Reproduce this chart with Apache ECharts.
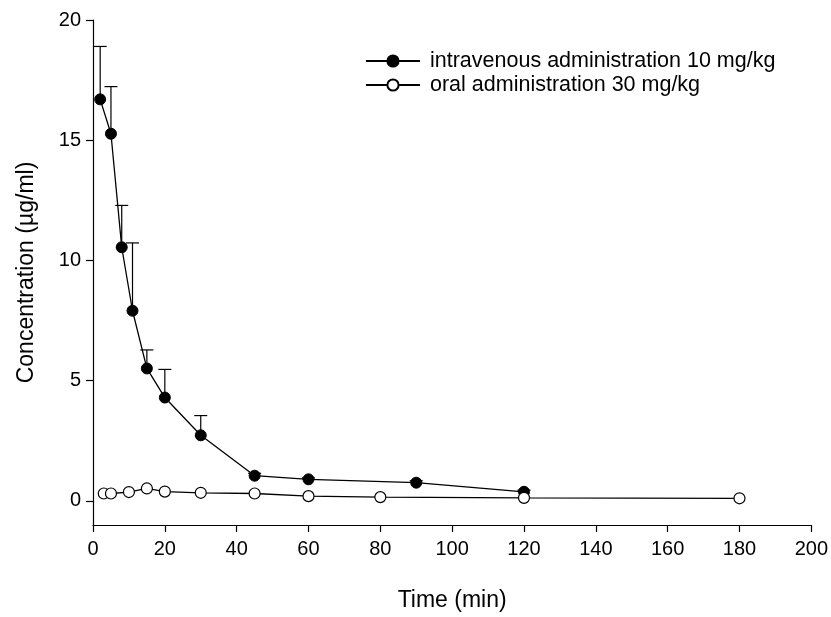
<!DOCTYPE html>
<html>
<head>
<meta charset="utf-8">
<script src="https://cdn.jsdelivr.net/npm/echarts@6/dist/echarts.min.js"></script>
<style>
  html, body { margin: 0; padding: 0; background: #fff; }
  #main { width: 831px; height: 617px; }
</style>
</head>
<body>
<div id="main"></div>
<script>
// intravenous 10 mg/kg: time (min), mean, upper error (mean + sd)
var ivTime = [2, 5, 8, 11, 15, 20, 30, 45, 60, 90, 120];
var ivMean = [16.7, 15.27, 10.55, 7.91, 5.51, 4.3, 2.73, 1.05, 0.9, 0.76, 0.38];
var ivUpper = [18.9, 17.23, 12.29, 10.73, 6.28, 5.47, 3.55, 1.15, 0.96, 0.84, 0.45];

// oral 30 mg/kg
var poTime = [3, 5, 10, 15, 20, 30, 45, 60, 80, 120, 180];
var poMean = [0.31, 0.31, 0.37, 0.52, 0.39, 0.34, 0.31, 0.2, 0.16, 0.13, 0.11];
var poUpper = [0.31, 0.31, 0.37, 0.52, 0.39, 0.34, 0.31, 0.2, 0.16, 0.13, 0.11];

var xTicks = [0, 20, 40, 60, 80, 100, 120, 140, 160, 180, 200];
var yTicks = [0, 5, 10, 15, 20];

var ivName = 'intravenous administration 10 mg/kg';
var poName = 'oral administration 30 mg/kg';

function pairs(xs, ys) {
    var out = [];
    for (var i = 0; i < xs.length; i++) out.push([xs[i], ys[i]]);
    return out;
}

function errData(xs, lo, hi) {
    var out = [];
    for (var i = 0; i < xs.length; i++) {
        if (hi[i] > lo[i]) out.push([xs[i], lo[i], hi[i]]);
    }
    return out;
}

// upper error bar with a cap
function renderErr(params, api) {
    var p0 = api.coord([api.value(0), api.value(1)]);
    var p1 = api.coord([api.value(0), api.value(2)]);
    var half = 6.5;
    var st = { stroke: '#000', lineWidth: 1.2 };
    return {
        type: 'group',
        children: [
            { type: 'line', shape: { x1: p0[0], y1: p0[1], x2: p1[0], y2: p1[1] }, style: st },
            { type: 'line', shape: { x1: p1[0] - half, y1: p1[1], x2: p1[0] + half, y2: p1[1] }, style: st }
        ]
    };
}

var font = 'Liberation Sans, Arial, sans-serif';

var myChart = echarts.init(document.getElementById('main'));
var option = {
    backgroundColor: '#fff',
    animation: false,
    textStyle: { fontFamily: font, color: '#000' },
    grid: { left: 93, right: 18, top: 20, bottom: 81 },
    legend: {
        orient: 'vertical',
        left: 360,
        top: 45,
        itemWidth: 54,
        itemHeight: 14,
        itemGap: 2,
        data: [ivName, poName],
        textStyle: { fontFamily: font, fontSize: 21.5, color: '#000', padding: [0, 0, 0, 5] }
    },
    xAxis: {
        type: 'value',
        min: 0,
        max: 200,
        interval: 20,
        name: 'Time (min)',
        nameLocation: 'middle',
        nameGap: 64,
        nameTextStyle: { fontFamily: font, fontSize: 23, color: '#000' },
        axisLine: { onZero: false, lineStyle: { color: '#000', width: 1.2 } },
        axisTick: { length: 7, lineStyle: { color: '#000', width: 1.2 }, customValues: xTicks },
        axisLabel: { fontFamily: font, fontSize: 20, color: '#000', margin: 14, customValues: xTicks },
        splitLine: { show: false }
    },
    yAxis: {
        type: 'value',
        min: -1,
        max: 20,
        name: 'Concentration (µg/ml)',
        nameLocation: 'middle',
        nameGap: 55,
        nameTextStyle: { fontFamily: font, fontSize: 23, color: '#000' },
        axisLine: { show: true, onZero: false, lineStyle: { color: '#000', width: 1.2 } },
        axisTick: { show: true, length: 7, lineStyle: { color: '#000', width: 1.2 }, customValues: yTicks },
        axisLabel: { fontFamily: font, fontSize: 20, color: '#000', margin: 12, customValues: yTicks },
        splitLine: { show: false }
    },
    series: [
        {
            type: 'custom',
            renderItem: renderErr,
            data: errData(ivTime, ivMean, ivUpper),
            z: 1,
            silent: true
        },
        {
            name: ivName,
            type: 'line',
            data: pairs(ivTime, ivMean),
            symbol: 'circle',
            symbolSize: 11,
            lineStyle: { color: '#000', width: 1.3 },
            itemStyle: { color: '#000', borderColor: '#000', borderWidth: 1 },
            z: 3
        },
        {
            name: poName,
            type: 'line',
            data: pairs(poTime, poMean),
            symbol: 'circle',
            symbolSize: 11,
            lineStyle: { color: '#000', width: 1.3 },
            itemStyle: { color: '#fff', borderColor: '#000', borderWidth: 1.2 },
            z: 3
        }
    ]
};
myChart.setOption(option);
</script>
</body>
</html>
